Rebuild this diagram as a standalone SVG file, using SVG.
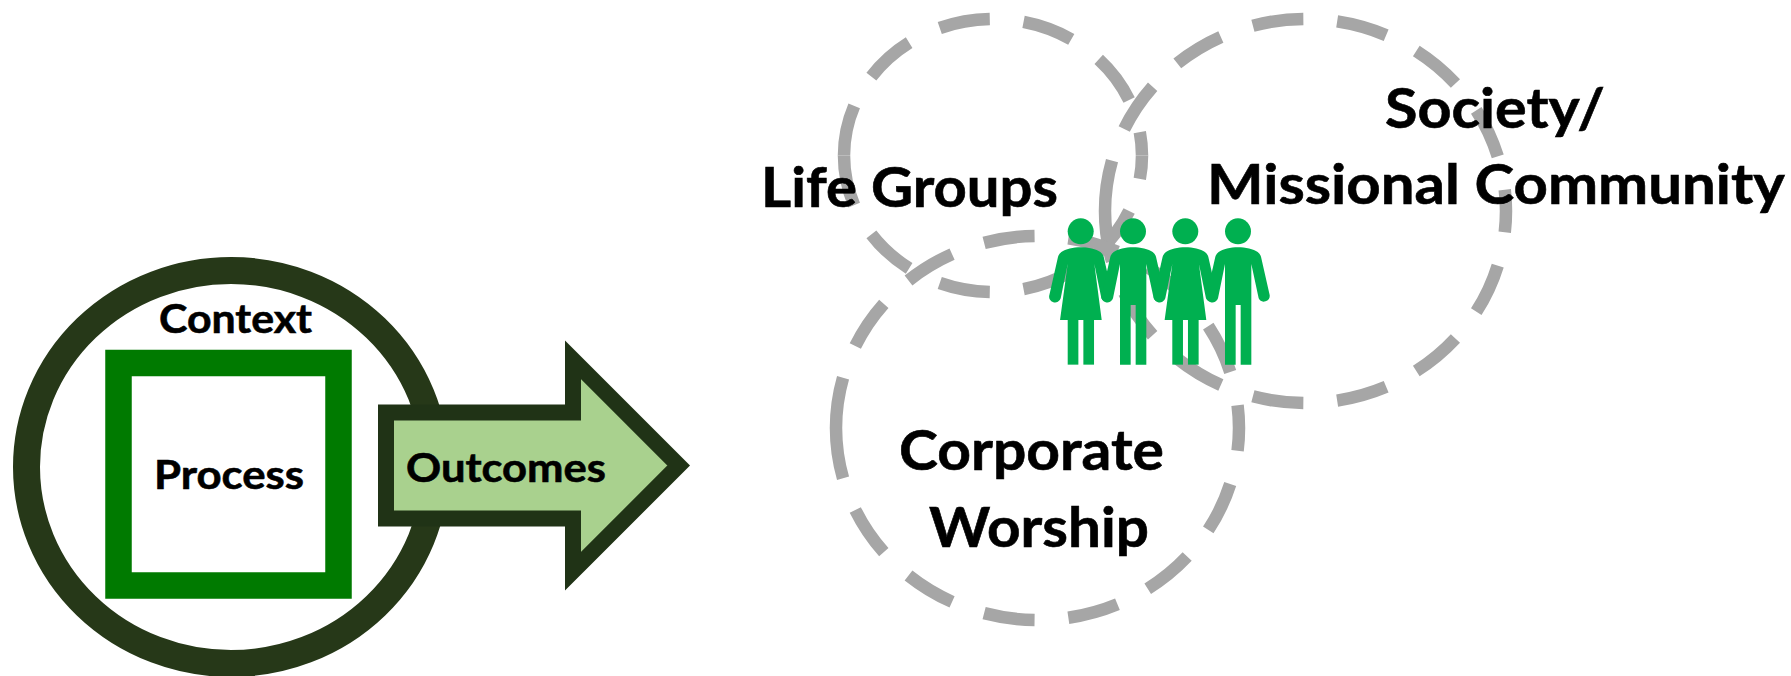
<svg xmlns="http://www.w3.org/2000/svg" width="1791" height="676" viewBox="0 0 1791 676">
<style>
text{font-family:Lato,"Open Sans","Liberation Sans",sans-serif;font-weight:700;fill:#000;stroke:#000;stroke-width:.6px}
.s{font-size:41px}
.b{font-size:56px}
.d{fill:none;stroke:#a6a6a6;stroke-width:12.5;stroke-dasharray:51 34}
.p{fill:#00b050}
</style>
<defs>
<g id="woman" class="p">
<circle cx="0" cy="124" r="39"/>
<path d="M0,172C-22,172-46,178-58,186Q-65,191-68,200L-94,315A17.5,17.5 0 0 0-60,325L-39,222L-62,390L63,390L41,222L62,325A17.5,17.5 0 0 0 95,315L69,200Q66,191 59,186C47,178 22,172 0,172Z"/>
<rect x="-39" y="385" width="32" height="139"/>
<rect x="8" y="385" width="32" height="139"/>
</g>
<g id="man" class="p">
<circle cx="0" cy="124" r="39"/>
<path d="M0,172C-22,172-46,178-58,186Q-65,191-68,200L-94,315A17.5,17.5 0 0 0-60,325L-39,222V524H-7V345H8V524H40V222L62,325A17.5,17.5 0 0 0 95,315L69,200Q66,191 59,186C47,178 22,172 0,172Z"/>
</g>
</defs>
<g id="context">
<ellipse cx="231" cy="467" rx="204.500" ry="196.500" fill="#fff" stroke="#263818" stroke-width="27"/>
<text class="s" x="159" y="333" textLength="153" lengthAdjust="spacingAndGlyphs">Context</text>
</g>
<g id="process">
<rect x="118.500" y="363" width="220" height="222.500" fill="#fff" stroke="#007a00" stroke-width="26.500"/>
<text class="s" x="154" y="489" textLength="150" lengthAdjust="spacingAndGlyphs">Process</text>
</g>
<g id="outcomes">
<path d="M386,412.500H573V359.800L678.700,465.500L573,571.200V518.500H386Z" fill="#a9d18e" stroke="#203316" stroke-width="16" stroke-miterlimit="10"/>
<text class="s" x="406" y="482" textLength="200" lengthAdjust="spacingAndGlyphs">Outcomes</text>
</g>
<g id="life-groups">
<path class="d" d="M844,155.500A149,136.500 0 0 1 1142,155.500"/>
<path class="d" d="M844,155.500A149,136.500 0 0 0 1142,155.500"/>
</g>
<g id="society">
<path class="d" d="M1105,211A200.500,192 0 0 1 1506,211"/>
<path class="d" d="M1105,211A200.500,192 0 0 0 1506,211"/>
</g>
<g id="corporate-worship">
<path class="d" d="M836,428A201.500,192 0 0 1 1239,428"/>
<path class="d" d="M836,428A201.500,192 0 0 0 1239,428"/>
</g>
<g id="labels">
<text class="b" x="761" y="207" textLength="297" lengthAdjust="spacingAndGlyphs">Life Groups</text>
<text class="b" x="1385" y="128" textLength="220" lengthAdjust="spacingAndGlyphs">Society/</text>
<text class="b" x="1207" y="204" textLength="578" lengthAdjust="spacingAndGlyphs">Missional Community</text>
<text class="b" x="899" y="470" textLength="265" lengthAdjust="spacingAndGlyphs">Corporate</text>
<text class="b" x="929" y="547" textLength="220" lengthAdjust="spacingAndGlyphs">Worship</text>
</g>
<g id="people">
<use href="#woman" transform="translate(1080.700,190) scale(.3333)"/>
<use href="#man" transform="translate(1133,190) scale(.3333)"/>
<use href="#woman" transform="translate(1185.300,190) scale(.3333)"/>
<use href="#man" transform="translate(1238,190) scale(.3333)"/>
</g>
<g id="connectors"/>
</svg>
